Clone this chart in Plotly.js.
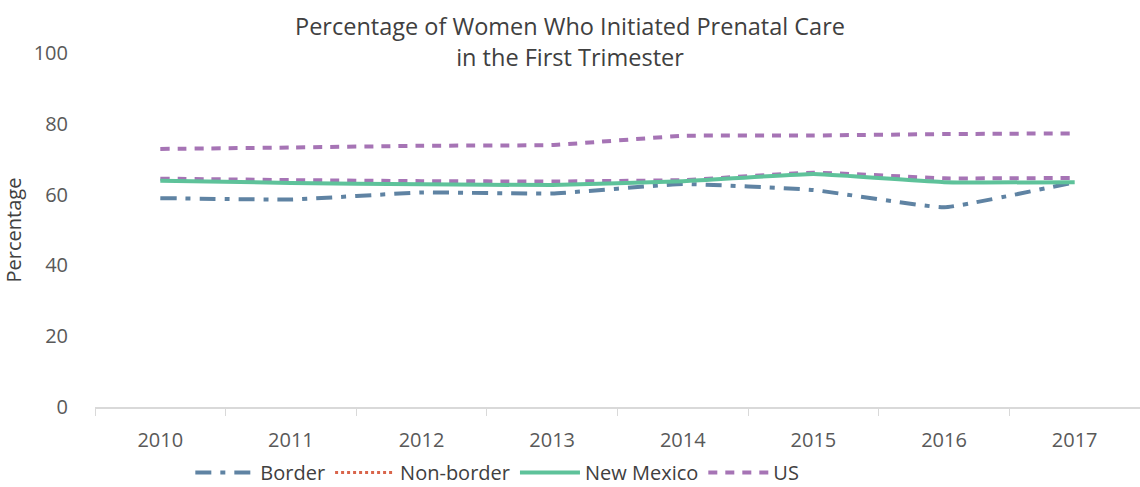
<!DOCTYPE html>
<html><head><meta charset="utf-8">
<script src="https://cdn.plot.ly/plotly-3.0.1.min.js"></script>
<style>html,body{margin:0;padding:0;background:#fff}#chart{width:1140px;height:487px}</style>
</head><body><div id="chart"></div>
<script>
const years = ['2010','2011','2012','2013','2014','2015','2016','2017'];
const border = [59.0, 58.6, 60.6, 60.3, 63.0, 61.3, 56.4, 63.5];
const nonBorder = [64.5, 64.1, 63.8, 63.7, 64.1, 66.2, 64.6, 64.7];
const newMexico = [63.9, 63.3, 62.9, 62.7, 63.8, 65.8, 63.5, 63.5];
const us = [72.9, 73.3, 73.8, 74.0, 76.6, 76.7, 77.1, 77.3];

const traces = [
  {x: years, y: border, name: 'Border', mode: 'lines', line: {color: '#5f83a3', width: 4, dash: '16px,9px,5px,9px', shape: 'spline', smoothing: 0.3}},
  {x: years, y: nonBorder, name: 'Non-border', mode: 'lines', legendgroup: 'nb', showlegend: false, line: {color: '#a674b5', width: 4, dash: '9px,8px', shape: 'spline', smoothing: 0.3}},
  {x: years, y: years.map(() => null), name: 'Non-border', mode: 'lines', legendgroup: 'nb', line: {color: '#d9654b', width: 3, dash: 'dot'}},
  {x: years, y: newMexico, name: 'New Mexico', mode: 'lines', line: {color: '#5ec29a', width: 4, shape: 'spline', smoothing: 0.3}},
  {x: years, y: us, name: 'US', mode: 'lines', line: {color: '#a674b5', width: 4, dash: '9px,8px', shape: 'spline', smoothing: 0.3}}
];

const layout = {
  width: 1140, height: 487,
  margin: {l: 95, r: 0, t: 53, b: 80},
  paper_bgcolor: '#fff', plot_bgcolor: '#fff',
  font: {family: 'Open Sans, Noto Sans, sans-serif', color: '#595959', size: 20},
  title: {text: 'Percentage of Women Who Initiated Prenatal Care<br>in the First Trimester', x: 0.5, xanchor: 'center', yref: 'container', y: 0.928, yanchor: 'middle', font: {size: 23.5, color: '#404040'}},
  xaxis: {type: 'category', range: [-0.5, 7.5], showgrid: false, zeroline: false, showline: true, linecolor: '#d9d9d9', linewidth: 1.5,
          ticks: 'outside', tickson: 'boundaries', ticklen: 7, tickcolor: '#d9d9d9', ticklabelstandoff: 14, tickfont: {size: 20, color: '#595959'}},
  yaxis: {range: [0, 100], tickvals: [0, 20, 40, 60, 80, 100], showgrid: false, zeroline: false, showline: false, ticks: '', ticklabelstandoff: 26,
          tickfont: {size: 20, color: '#595959'}, title: {text: 'Percentage', font: {size: 20, color: '#404040'}, standoff: 6}},
  legend: {orientation: 'h', xref: 'paper', x: 0.385, xanchor: 'center', yref: 'container', y: 0.03, yanchor: 'middle', font: {size: 20, color: '#404040'}, itemwidth: 60, traceorder: 'normal'},
  showlegend: true
};
Plotly.newPlot('chart', traces, layout, {displayModeBar: false, staticPlot: true});
</script></body></html>
